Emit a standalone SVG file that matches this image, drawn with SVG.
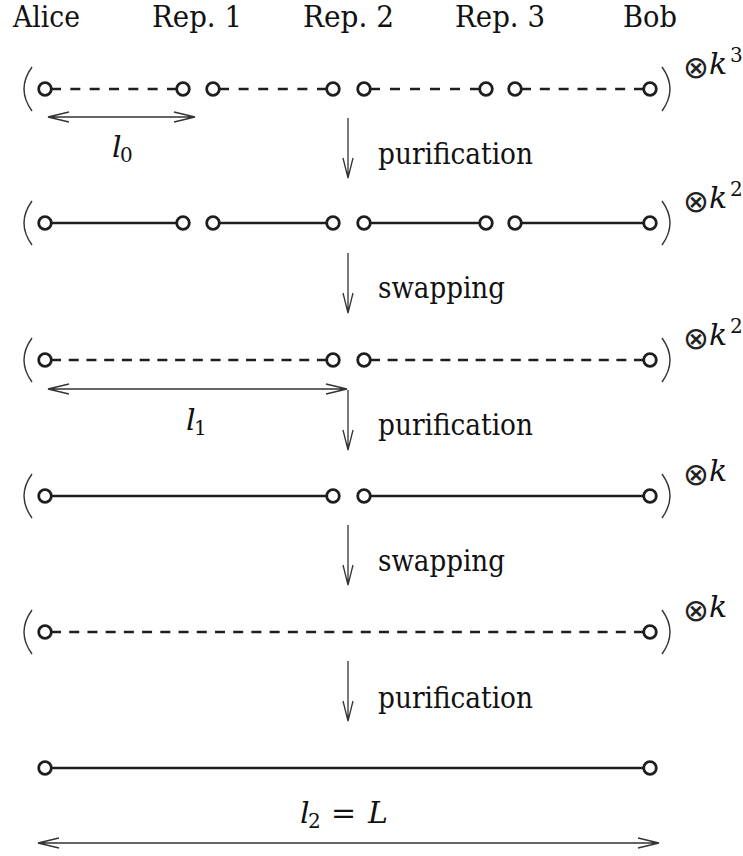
<svg xmlns="http://www.w3.org/2000/svg" width="743" height="856" viewBox="0 0 743 856">
<defs>
<style>
text{font-family:"DejaVu Serif","Liberation Serif",serif;fill:#111}
.t{font-size:30px}
.i{font-style:italic;font-size:30px}
.o{font-family:"DejaVu Sans",sans-serif;font-size:31px;fill:#222}
.sup{font-size:20px;font-style:normal}
.nd{fill:#fff;stroke:#1e1e1e;stroke-width:2.8}
.ln{stroke:#1e1e1e;stroke-width:2.7;fill:none}
.ar{stroke:#333;stroke-width:1.3;fill:none}
.pa{stroke:#333;stroke-width:1.4;fill:none}
</style>
</defs>
<rect width="743" height="856" fill="#fff"/>

<g id="labels-top">
<text class="t" x="13" y="27" textLength="67" lengthAdjust="spacingAndGlyphs">Alice</text>
<text class="t" x="152" y="27" textLength="90" lengthAdjust="spacingAndGlyphs">Rep. 1</text>
<text class="t" x="303" y="27" textLength="91" lengthAdjust="spacingAndGlyphs">Rep. 2</text>
<text class="t" x="455" y="27" textLength="90" lengthAdjust="spacingAndGlyphs">Rep. 3</text>
<text class="t" x="623" y="27" textLength="54" lengthAdjust="spacingAndGlyphs">Bob</text>
</g>

<g id="connectors">
<line class="ln" x1="51" y1="89" x2="177" y2="89" stroke-dasharray="10 9.33"/>
<line class="ln" x1="219" y1="89" x2="327" y2="89" stroke-dasharray="10 9.6"/>
<line class="ln" x1="370" y1="89" x2="480" y2="89" stroke-dasharray="10 10"/>
<line class="ln" x1="521" y1="89" x2="644" y2="89" stroke-dasharray="10 8.83"/>
<line class="ln" x1="45" y1="223" x2="183" y2="223"/>
<line class="ln" x1="213" y1="223" x2="333" y2="223"/>
<line class="ln" x1="364" y1="223" x2="486" y2="223"/>
<line class="ln" x1="515" y1="223" x2="650" y2="223"/>
<line class="ln" x1="51" y1="360" x2="327" y2="360" stroke-dasharray="10 7.73"/>
<line class="ln" x1="370" y1="360" x2="644" y2="360" stroke-dasharray="10 7.6"/>
<line class="ln" x1="45" y1="496" x2="333" y2="496"/>
<line class="ln" x1="364" y1="496" x2="650" y2="496"/>
<line class="ln" x1="51" y1="632" x2="644" y2="632" stroke-dasharray="10 8.22"/>
<line class="ln" x1="45" y1="768" x2="650" y2="768"/>

<path class="ar" d="M348 118V178M343 158L348 178L353 158"/>
<path class="ar" d="M348 253V313M343 293L348 313L353 293"/>
<path class="ar" d="M348 390V450M343 430L348 450L353 430"/>
<path class="ar" d="M348 525V585M343 565L348 585L353 565"/>
<path class="ar" d="M348 661V721M343 701L348 721L353 701"/>

<path class="ar" d="M48 117H195M69 112L48 117L69 122M174 112L195 117L174 122"/>
<path class="ar" d="M48 389H347M69 384L48 389L69 394M326 384L347 389L326 394"/>
<path class="ar" d="M38 843H659M59 838L38 843L59 848M638 838L659 843L638 848"/>
</g>

<g id="row1">
<path class="pa" d="M32 67Q16 89 32 111"/>
<path class="pa" d="M662 67Q678 89 662 111"/>
<circle class="nd" cx="45" cy="89" r="6.3"/>
<circle class="nd" cx="183" cy="89" r="6.3"/>
<circle class="nd" cx="213" cy="89" r="6.3"/>
<circle class="nd" cx="333" cy="89" r="6.3"/>
<circle class="nd" cx="364" cy="89" r="6.3"/>
<circle class="nd" cx="486" cy="89" r="6.3"/>
<circle class="nd" cx="515" cy="89" r="6.3"/>
<circle class="nd" cx="650" cy="89" r="6.3"/>
<text class="o" x="696" y="78" text-anchor="middle">⊗</text>
<text class="i" x="709" y="74">k</text>
<text class="sup" x="730" y="62">3</text>
</g>

<g id="row2">
<path class="pa" d="M32 201Q16 223 32 245"/>
<path class="pa" d="M662 201Q678 223 662 245"/>
<circle class="nd" cx="45" cy="223" r="6.3"/>
<circle class="nd" cx="183" cy="223" r="6.3"/>
<circle class="nd" cx="213" cy="223" r="6.3"/>
<circle class="nd" cx="333" cy="223" r="6.3"/>
<circle class="nd" cx="364" cy="223" r="6.3"/>
<circle class="nd" cx="486" cy="223" r="6.3"/>
<circle class="nd" cx="515" cy="223" r="6.3"/>
<circle class="nd" cx="650" cy="223" r="6.3"/>
<text class="o" x="696" y="212" text-anchor="middle">⊗</text>
<text class="i" x="709" y="208">k</text>
<text class="sup" x="730" y="196">2</text>
</g>

<g id="row3">
<path class="pa" d="M32 338Q16 360 32 382"/>
<path class="pa" d="M662 338Q678 360 662 382"/>
<circle class="nd" cx="45" cy="360" r="6.3"/>
<circle class="nd" cx="333" cy="360" r="6.3"/>
<circle class="nd" cx="364" cy="360" r="6.3"/>
<circle class="nd" cx="650" cy="360" r="6.3"/>
<text class="o" x="696" y="349" text-anchor="middle">⊗</text>
<text class="i" x="709" y="345">k</text>
<text class="sup" x="730" y="333">2</text>
</g>

<g id="row4">
<path class="pa" d="M32 474Q16 496 32 518"/>
<path class="pa" d="M662 474Q678 496 662 518"/>
<circle class="nd" cx="45" cy="496" r="6.3"/>
<circle class="nd" cx="333" cy="496" r="6.3"/>
<circle class="nd" cx="364" cy="496" r="6.3"/>
<circle class="nd" cx="650" cy="496" r="6.3"/>
<text class="o" x="696" y="485" text-anchor="middle">⊗</text>
<text class="i" x="709" y="481">k</text>
</g>

<g id="row5">
<path class="pa" d="M32 610Q16 632 32 654"/>
<path class="pa" d="M662 610Q678 632 662 654"/>
<circle class="nd" cx="45" cy="632" r="6.3"/>
<circle class="nd" cx="650" cy="632" r="6.3"/>
<text class="o" x="696" y="621" text-anchor="middle">⊗</text>
<text class="i" x="709" y="617">k</text>
</g>

<g id="row6">
<circle class="nd" cx="45" cy="768" r="6.3"/>
<circle class="nd" cx="650" cy="768" r="6.3"/>
</g>

<g id="step-labels">
<text class="t" x="378" y="164" textLength="155" lengthAdjust="spacingAndGlyphs">purification</text>
<text class="t" x="378" y="298" textLength="127" lengthAdjust="spacingAndGlyphs">swapping</text>
<text class="t" x="378" y="435" textLength="155" lengthAdjust="spacingAndGlyphs">purification</text>
<text class="t" x="378" y="571" textLength="127" lengthAdjust="spacingAndGlyphs">swapping</text>
<text class="t" x="378" y="708" textLength="155" lengthAdjust="spacingAndGlyphs">purification</text>
</g>

<g id="length-labels">
<text class="i" x="112" y="157">l</text><text class="sup" x="120" y="162">0</text>
<text class="i" x="186" y="430">l</text><text class="sup" x="194" y="435">1</text>
<text class="i" x="300" y="823">l</text><text class="sup" x="308" y="828">2</text>
<text class="t" x="331" y="823">=</text>
<text class="i" x="368" y="823">L</text>
</g>
</svg>
